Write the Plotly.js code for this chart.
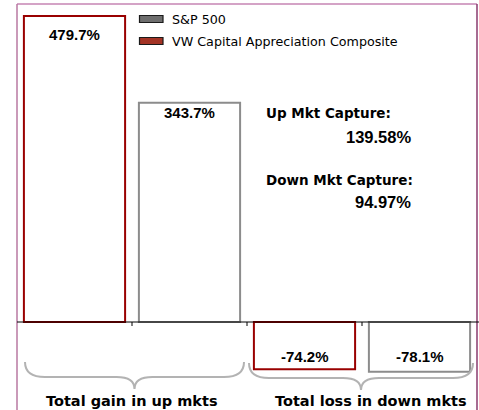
<!DOCTYPE html>
<html>
<head>
<meta charset="utf-8">
<script src="https://cdn.plot.ly/plotly-3.0.1.min.js"></script>
<style>html,body{margin:0;padding:0;background:#fff;}#chart{width:479px;height:410px;}</style>
</head>
<body>
<div id="chart"></div>
<script>
// ---- data ----
const seriesNames = ['S&P 500', 'VW Capital Appreciation Composite'];
const groupLabels = ['Total gain in up mkts', 'Total loss in down mkts'];
const vwValues = [479.7, -74.2];
const spValues = [343.7, -78.1];
const captureLabels = ['Up Mkt Capture:', 'Down Mkt Capture:'];
const captureValues = [139.58, 94.97];

// ---- geometry helpers (pixels -> paper) ----
const W = 479, H = 410, ML = 17, MR = 2, MT = 4, MB = 0;
const PW = W - ML - MR, PH = H - MT - MB;
const px = x => (x - ML) / PW;
const py = y => (H - MB - y) / PH;

const RED = '#990000', GRAY = '#8c8c8c';
const vwX = vwValues.map((v, i) => 2 * i);
const spX = spValues.map((v, i) => 2 * i + 1);
const fmt = v => v.toFixed(1) + '%';

const traces = [
  {type: 'bar', name: seriesNames[1], x: vwX, y: vwValues, width: 0.88,
   marker: {color: '#ffffff', line: {color: RED, width: 2}}, showlegend: false, hoverinfo: 'none'},
  {type: 'bar', name: seriesNames[0], x: spX, y: spValues, width: 0.88,
   marker: {color: '#ffffff', line: {color: GRAY, width: 2}}, showlegend: false, hoverinfo: 'none'}
];

const valFont = {family: 'Liberation Sans, Arial, sans-serif', size: 15, color: '#000'};
const annotations = [];
// bar value labels
vwValues.forEach((v, i) => annotations.push({x: vwX[i], y: v, xref: 'x', yref: 'y', text: '<b>' + fmt(v) + '</b>',
  showarrow: false, font: valFont, yanchor: 'middle', yshift: v > 0 ? -18 : 13}));
spValues.forEach((v, i) => annotations.push({x: spX[i], y: v, xref: 'x', yref: 'y', text: '<b>' + fmt(v) + '</b>',
  showarrow: false, font: valFont, yanchor: 'middle', yshift: v > 0 ? -10 : 15}));
// group labels
groupLabels.forEach((t, i) => annotations.push({x: 2 * i + 0.5, y: py(401), xref: 'x', yref: 'paper', text: '<b>' + t + '</b>',
  showarrow: false, xshift: i === 0 ? 0 : 9, yanchor: 'middle',
  font: {family: 'DejaVu Sans, Verdana, sans-serif', size: 14.5, color: '#000'}}));
// capture texts
const capLabelY = [113, 180], capValY = [137, 202];
captureLabels.forEach((t, i) => {
  annotations.push({x: px(264), y: py(capLabelY[i]), xref: 'paper', yref: 'paper', text: '<b>' + t + '</b>',
    showarrow: false, xanchor: 'left', yanchor: 'middle',
    font: {family: 'DejaVu Sans, Verdana, sans-serif', size: 13.5, color: '#000'}});
  annotations.push({x: px(413), y: py(capValY[i]), xref: 'paper', yref: 'paper', text: '<b>' + captureValues[i].toFixed(2) + '%</b>',
    showarrow: false, xanchor: 'right', yanchor: 'middle',
    font: {family: 'Liberation Sans, Arial, sans-serif', size: 16.5, color: '#000'}});
});
// legend texts
const legY = [19, 41];
seriesNames.forEach((t, i) => annotations.push({x: px(170), y: py(legY[i]), xref: 'paper', yref: 'paper', text: t,
  showarrow: false, xanchor: 'left', yanchor: 'middle',
  font: {family: 'DejaVu Sans, Verdana, sans-serif', size: 12.7, color: '#000'}}));

const shapes = [];
// legend swatches
const swFill = ['#6e6e6e', '#a33325'];
legY.forEach((y, i) => shapes.push({type: 'rect', xref: 'paper', yref: 'paper',
  x0: px(139.5), x1: px(163), y0: py(y - 3.5), y1: py(y + 3.5),
  fillcolor: swFill[i], line: {color: '#1a1a1a', width: 1.2}}));
// frame
shapes.push({type: 'line', xref: 'paper', yref: 'paper', x0: 0, x1: 1, y0: 1, y1: 1, line: {color: '#d4a3c6', width: 2}});
shapes.push({type: 'line', xref: 'paper', yref: 'paper', x0: 0, x1: 0, y0: 0, y1: 1, line: {color: '#b978a2', width: 1.5}});
shapes.push({type: 'line', xref: 'paper', yref: 'paper', x0: 1, x1: 1, y0: 0, y1: 1, line: {color: '#8a3a6e', width: 1.5}});
// zero line and category ticks
shapes.push({type: 'line', xref: 'paper', yref: 'y', x0: 0, x1: (W - ML) / PW, y0: 0, y1: 0, line: {color: '#000', width: 1}});
[0.5, 1.5, 2.5].forEach(x => shapes.push({type: 'line', xref: 'x', yref: 'y', ysizemode: 'pixel', yanchor: 0,
  x0: x, x1: x, y0: 0, y1: -4, line: {color: '#000', width: 1}}));
// braces
function bracePath(x0, x1, yTip, yFlat, yPoint) {
  const xm = (x0 + x1) / 2, r = 20, rp = 18;
  const P = (x, y) => px(x) + ',' + py(y);
  return 'M' + P(x0, yTip) + ' Q' + P(x0, yFlat) + ' ' + P(x0 + r, yFlat) +
    ' L' + P(xm - rp, yFlat) + ' Q' + P(xm, yFlat) + ' ' + P(xm, yPoint) +
    ' Q' + P(xm, yFlat) + ' ' + P(xm + rp, yFlat) +
    ' L' + P(x1 - r, yFlat) + ' Q' + P(x1, yFlat) + ' ' + P(x1, yTip);
}
shapes.push({type: 'path', xref: 'paper', yref: 'paper', path: bracePath(25, 244, 362, 377, 389), line: {color: '#b3b3b3', width: 2}});
shapes.push({type: 'path', xref: 'paper', yref: 'paper', path: bracePath(249, 473, 363, 378, 390), line: {color: '#b3b3b3', width: 2}});

const k = 306 / vwValues[0];
const layout = {
  width: W, height: H,
  margin: {l: ML, r: MR, t: MT, b: MB, pad: 0},
  paper_bgcolor: '#ffffff', plot_bgcolor: '#ffffff',
  barmode: 'overlay',
  showlegend: false,
  xaxis: {range: [-0.5, 3.5], showgrid: false, zeroline: false, showticklabels: false, ticks: '', fixedrange: true},
  yaxis: {range: [-(H - MB - 322) / k, (322 - MT) / k], showgrid: false, zeroline: false, showticklabels: false, ticks: '', fixedrange: true},
  annotations: annotations,
  shapes: shapes
};
Plotly.newPlot('chart', traces, layout, {staticPlot: true, displayModeBar: false});
</script>
</body>
</html>
